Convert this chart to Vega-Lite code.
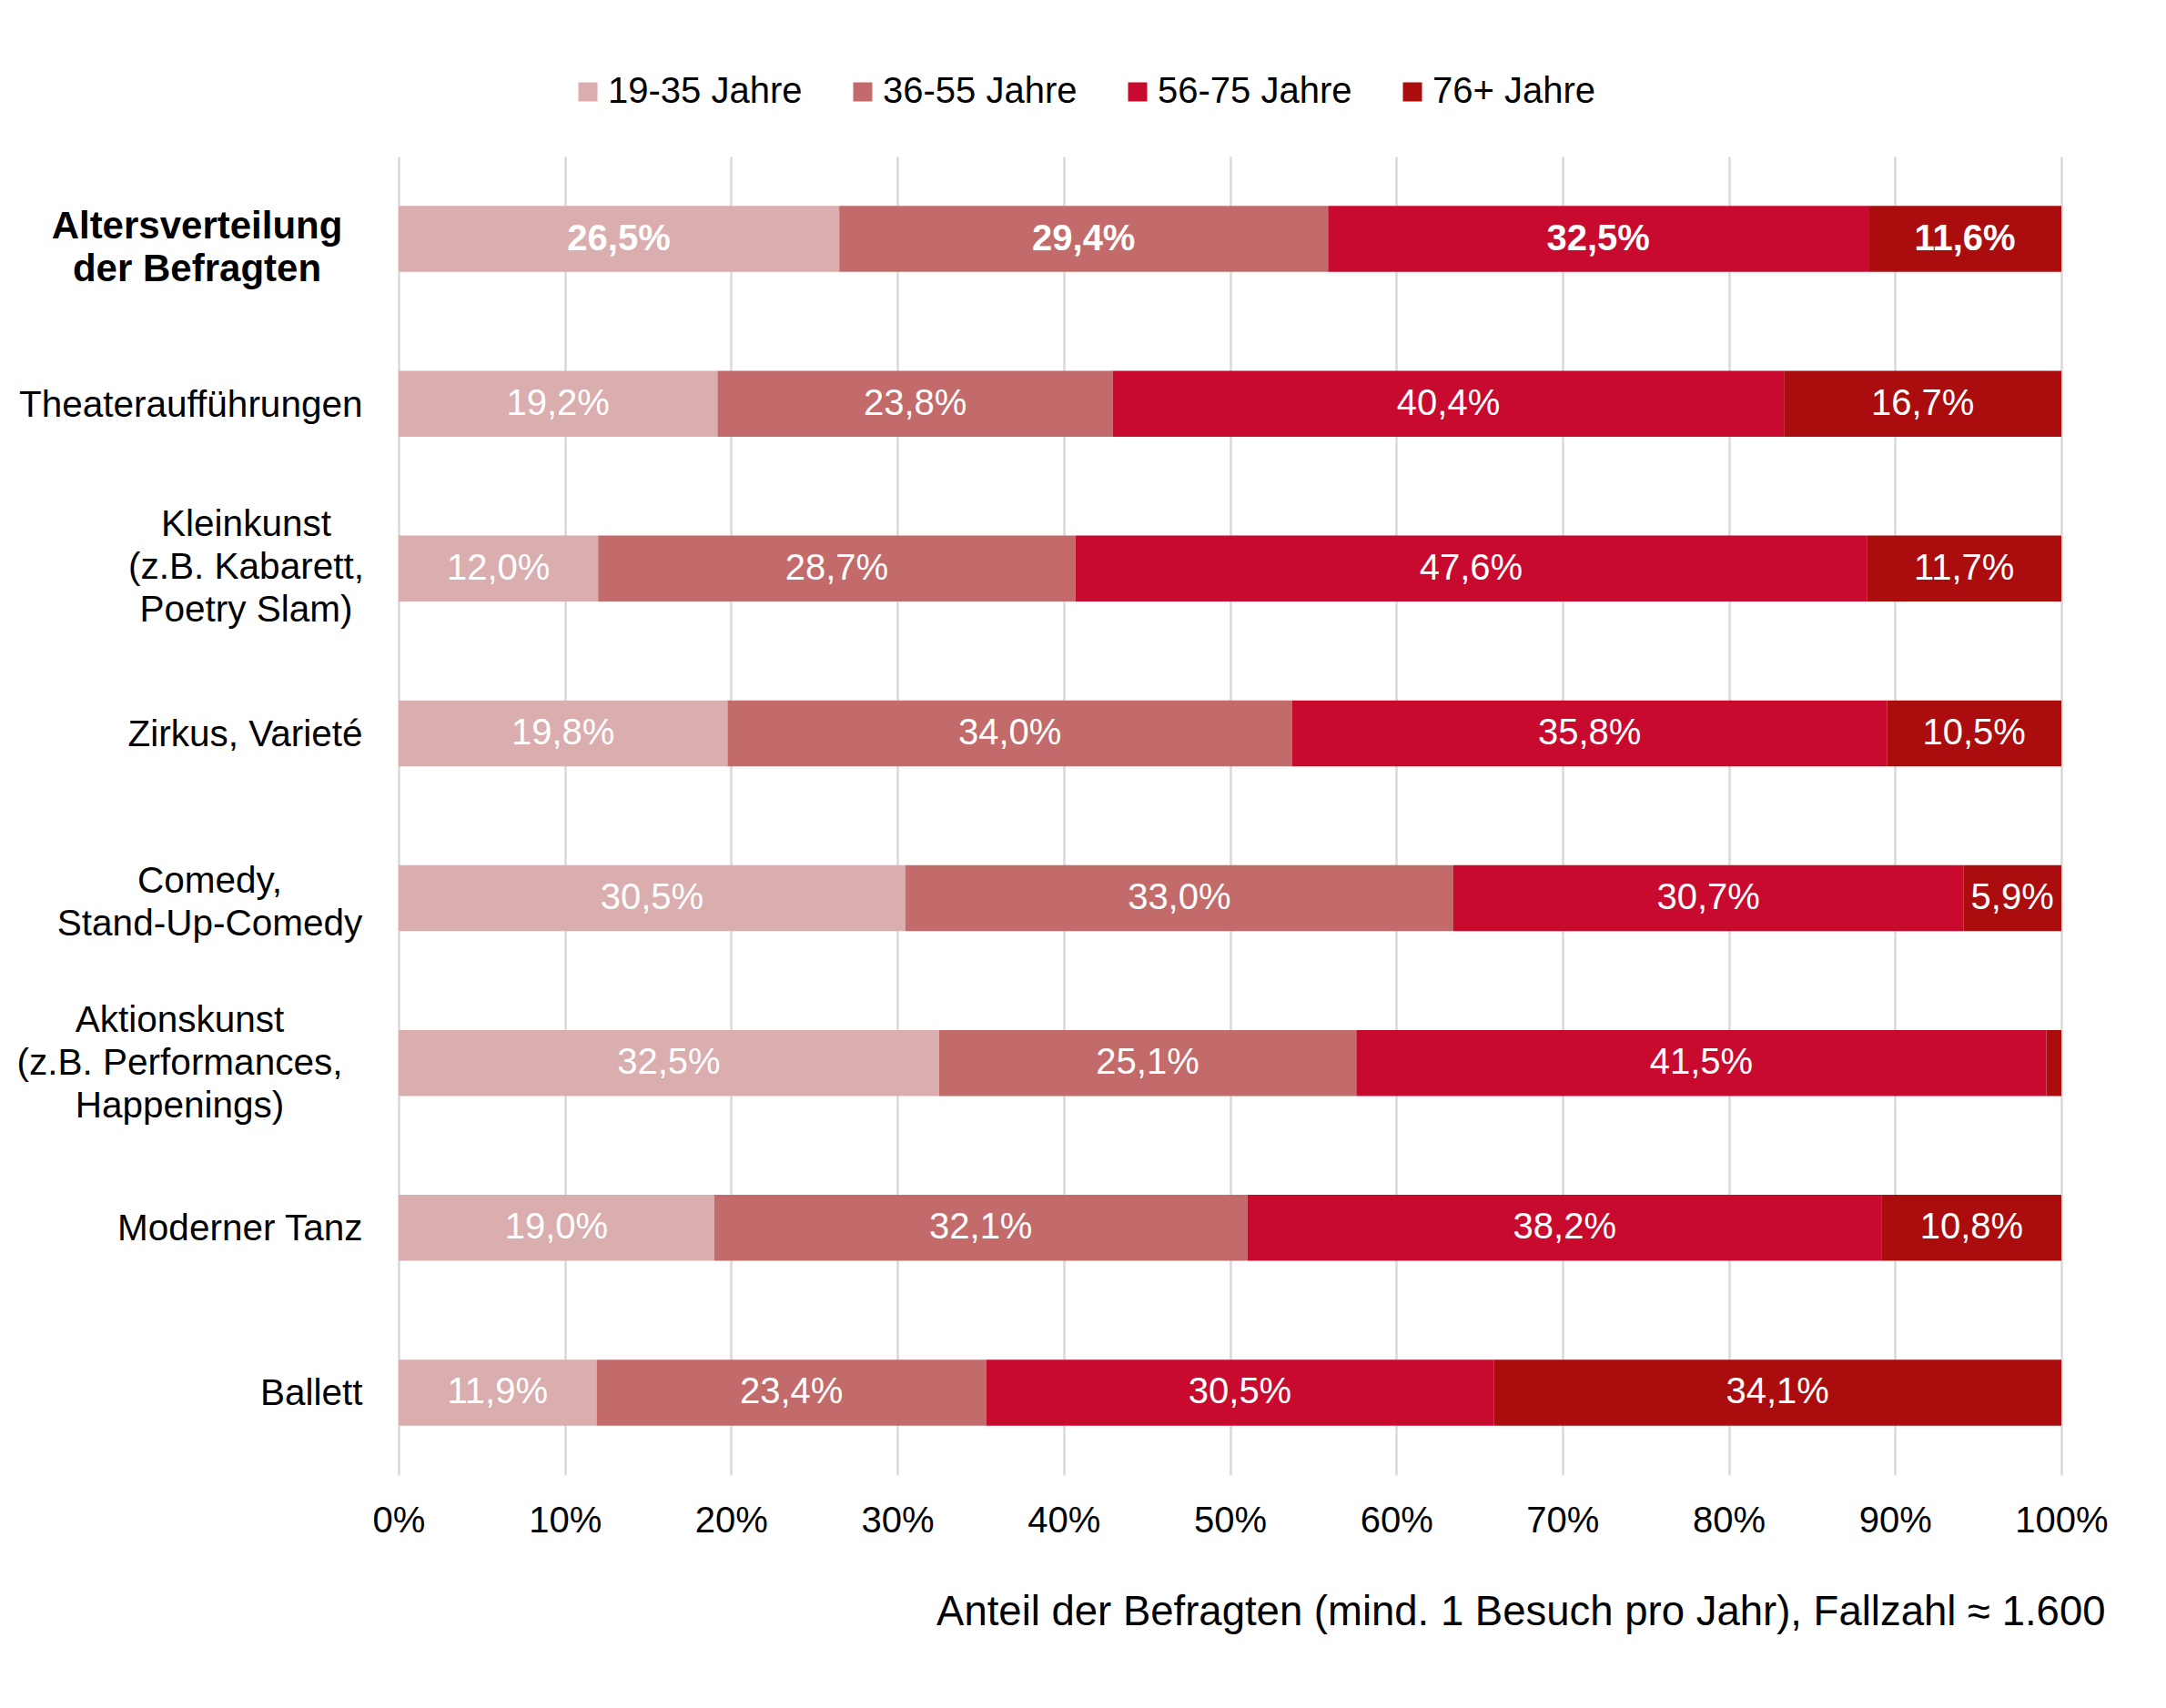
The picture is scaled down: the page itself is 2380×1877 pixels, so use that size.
{
  "$schema": "https://vega.github.io/schema/vega-lite/v6.json",
  "width": 1827,
  "height": 1449,
  "autosize": {"type": "none"},
  "padding": {"left": 438, "top": 172, "right": 115, "bottom": 256},
  "background": "white",
  "config": {
    "font": "Liberation Sans",
    "view": {"stroke": null},
    "locale": {"number": {"decimal": ",", "thousands": ".", "grouping": [3], "currency": ["", "%"]}}
  },
  "data": {
    "values": [
      {"kategorie": "Altersverteilung|der Befragten", "alter": "19-35 Jahre", "anteil": 26.5},
      {"kategorie": "Altersverteilung|der Befragten", "alter": "36-55 Jahre", "anteil": 29.4},
      {"kategorie": "Altersverteilung|der Befragten", "alter": "56-75 Jahre", "anteil": 32.5},
      {"kategorie": "Altersverteilung|der Befragten", "alter": "76+ Jahre", "anteil": 11.6},
      {"kategorie": "Theateraufführungen", "alter": "19-35 Jahre", "anteil": 19.2},
      {"kategorie": "Theateraufführungen", "alter": "36-55 Jahre", "anteil": 23.8},
      {"kategorie": "Theateraufführungen", "alter": "56-75 Jahre", "anteil": 40.4},
      {"kategorie": "Theateraufführungen", "alter": "76+ Jahre", "anteil": 16.7},
      {"kategorie": "Kleinkunst|(z.B. Kabarett,|Poetry Slam)", "alter": "19-35 Jahre", "anteil": 12.0},
      {"kategorie": "Kleinkunst|(z.B. Kabarett,|Poetry Slam)", "alter": "36-55 Jahre", "anteil": 28.7},
      {"kategorie": "Kleinkunst|(z.B. Kabarett,|Poetry Slam)", "alter": "56-75 Jahre", "anteil": 47.6},
      {"kategorie": "Kleinkunst|(z.B. Kabarett,|Poetry Slam)", "alter": "76+ Jahre", "anteil": 11.7},
      {"kategorie": "Zirkus, Varieté", "alter": "19-35 Jahre", "anteil": 19.8},
      {"kategorie": "Zirkus, Varieté", "alter": "36-55 Jahre", "anteil": 34.0},
      {"kategorie": "Zirkus, Varieté", "alter": "56-75 Jahre", "anteil": 35.8},
      {"kategorie": "Zirkus, Varieté", "alter": "76+ Jahre", "anteil": 10.5},
      {"kategorie": "Comedy,|Stand-Up-Comedy", "alter": "19-35 Jahre", "anteil": 30.5},
      {"kategorie": "Comedy,|Stand-Up-Comedy", "alter": "36-55 Jahre", "anteil": 33.0},
      {"kategorie": "Comedy,|Stand-Up-Comedy", "alter": "56-75 Jahre", "anteil": 30.7},
      {"kategorie": "Comedy,|Stand-Up-Comedy", "alter": "76+ Jahre", "anteil": 5.9},
      {"kategorie": "Aktionskunst|(z.B. Performances,|Happenings)", "alter": "19-35 Jahre", "anteil": 32.5},
      {"kategorie": "Aktionskunst|(z.B. Performances,|Happenings)", "alter": "36-55 Jahre", "anteil": 25.1},
      {"kategorie": "Aktionskunst|(z.B. Performances,|Happenings)", "alter": "56-75 Jahre", "anteil": 41.5},
      {"kategorie": "Aktionskunst|(z.B. Performances,|Happenings)", "alter": "76+ Jahre", "anteil": 0.9},
      {"kategorie": "Moderner Tanz", "alter": "19-35 Jahre", "anteil": 19.0},
      {"kategorie": "Moderner Tanz", "alter": "36-55 Jahre", "anteil": 32.1},
      {"kategorie": "Moderner Tanz", "alter": "56-75 Jahre", "anteil": 38.2},
      {"kategorie": "Moderner Tanz", "alter": "76+ Jahre", "anteil": 10.8},
      {"kategorie": "Ballett", "alter": "19-35 Jahre", "anteil": 11.9},
      {"kategorie": "Ballett", "alter": "36-55 Jahre", "anteil": 23.4},
      {"kategorie": "Ballett", "alter": "56-75 Jahre", "anteil": 30.5},
      {"kategorie": "Ballett", "alter": "76+ Jahre", "anteil": 34.1}
    ]
  },
  "encoding": {
    "y": {
      "field": "kategorie",
      "type": "nominal",
      "sort": [
        "Altersverteilung|der Befragten",
        "Theateraufführungen",
        "Kleinkunst|(z.B. Kabarett,|Poetry Slam)",
        "Zirkus, Varieté",
        "Comedy,|Stand-Up-Comedy",
        "Aktionskunst|(z.B. Performances,|Happenings)",
        "Moderner Tanz",
        "Ballett"
      ],
      "scale": {"paddingInner": 0.6, "paddingOuter": 0.3},
      "axis": {
        "title": null,
        "domain": false,
        "ticks": false,
        "tickSize": 0,
        "grid": false,
        "labelExpr": "split(datum.label, '|')",
        "labelLineHeight": 47,
        "labelColor": "black",
        "labelLimit": 0,
        "labelBaseline": "middle",
        "labelAlign": {"condition": {"test": "indexof(datum.value, '|') >= 0", "value": "center"}, "value": "right"},
        "labelFontWeight": {"condition": {"test": "indexof(datum.value, 'Altersverteilung') == 0", "value": "bold"}, "value": "normal"},
        "labelFontSize": {"condition": {"test": "indexof(datum.value, 'Altersverteilung') == 0", "value": 42}, "value": 40.5},
        "labelPadding": {
          "condition": [
            {"test": "indexof(datum.value, 'Altersverteilung') == 0", "value": 222},
            {"test": "indexof(datum.value, 'Kleinkunst') == 0", "value": 168},
            {"test": "indexof(datum.value, 'Comedy') == 0", "value": 208},
            {"test": "indexof(datum.value, 'Aktionskunst') == 0", "value": 241}
          ],
          "value": 40
        },
        "labelOffset": {
          "condition": [
            {"test": "indexof(datum.value, 'Altersverteilung') == 0", "value": -14},
            {"test": "indexof(datum.value, 'Kleinkunst') == 0", "value": -48},
            {"test": "indexof(datum.value, 'Comedy') == 0", "value": -18},
            {"test": "indexof(datum.value, 'Aktionskunst') == 0", "value": -46}
          ],
          "value": 2
        }
      }
    },
    "x": {
      "field": "anteil",
      "type": "quantitative",
      "stack": "normalize",
      "scale": {"domain": [0, 1]},
      "axis": {
        "values": [0, 0.1, 0.2, 0.3, 0.4, 0.5, 0.6, 0.7, 0.8, 0.9, 1],
        "format": ".0%",
        "domain": false,
        "ticks": false,
        "tickSize": 0,
        "grid": true,
        "gridColor": "#d9d9d9",
        "gridWidth": 2.5,
        "labelFontSize": 40,
        "labelColor": "black",
        "labelPadding": 30,
        "labelFlush": false,
        "labelOverlap": false,
        "title": "Anteil der Befragten (mind. 1 Besuch pro Jahr), Fallzahl ≈ 1.600",
        "titleFontSize": 45.5,
        "titleFontWeight": "normal",
        "titleColor": "black",
        "titleAnchor": "end",
        "titleAlign": "right",
        "titleBaseline": "alphabetic",
        "titleX": 1875,
        "titleY": 164
      }
    },
    "order": {"field": "alter", "sort": "ascending"}
  },
  "layer": [
    {
      "mark": {"type": "bar"},
      "encoding": {
        "color": {
          "field": "alter",
          "type": "nominal",
          "scale": {
            "domain": ["19-35 Jahre", "36-55 Jahre", "56-75 Jahre", "76+ Jahre"],
            "range": ["#daadaf", "#c36a6a", "#c80a2f", "#ab0d0f"]
          },
          "legend": {
            "orient": "none",
            "direction": "horizontal",
            "legendX": 188,
            "legendY": -91,
            "title": null,
            "padding": 0,
            "labelFontSize": 40,
            "labelColor": "black",
            "labelLimit": 0,
            "symbolType": "square",
            "symbolSize": 441,
            "symbolStrokeWidth": 0,
            "labelOffset": 2,
            "columnPadding": 46
          }
        }
      }
    },
    {
      "transform": [{"filter": "indexof(datum.kategorie, 'Altersverteilung') != 0"}],
      "mark": {"type": "text", "color": "white", "fontSize": 40, "baseline": "middle", "align": "center"},
      "encoding": {
        "x": {"field": "anteil", "type": "quantitative", "stack": "normalize", "bandPosition": 0.5},
        "detail": {"field": "alter"},
        "text": {
          "condition": {"test": "datum.anteil < 2", "value": ""},
          "field": "anteil",
          "type": "quantitative",
          "format": "$.1f"
        }
      }
    },
    {
      "transform": [{"filter": "indexof(datum.kategorie, 'Altersverteilung') == 0"}],
      "mark": {"type": "text", "color": "white", "fontSize": 40, "fontWeight": "bold", "baseline": "middle", "align": "center"},
      "encoding": {
        "x": {"field": "anteil", "type": "quantitative", "stack": "normalize", "bandPosition": 0.5},
        "detail": {"field": "alter"},
        "text": {"field": "anteil", "type": "quantitative", "format": "$.1f"}
      }
    }
  ]
}
